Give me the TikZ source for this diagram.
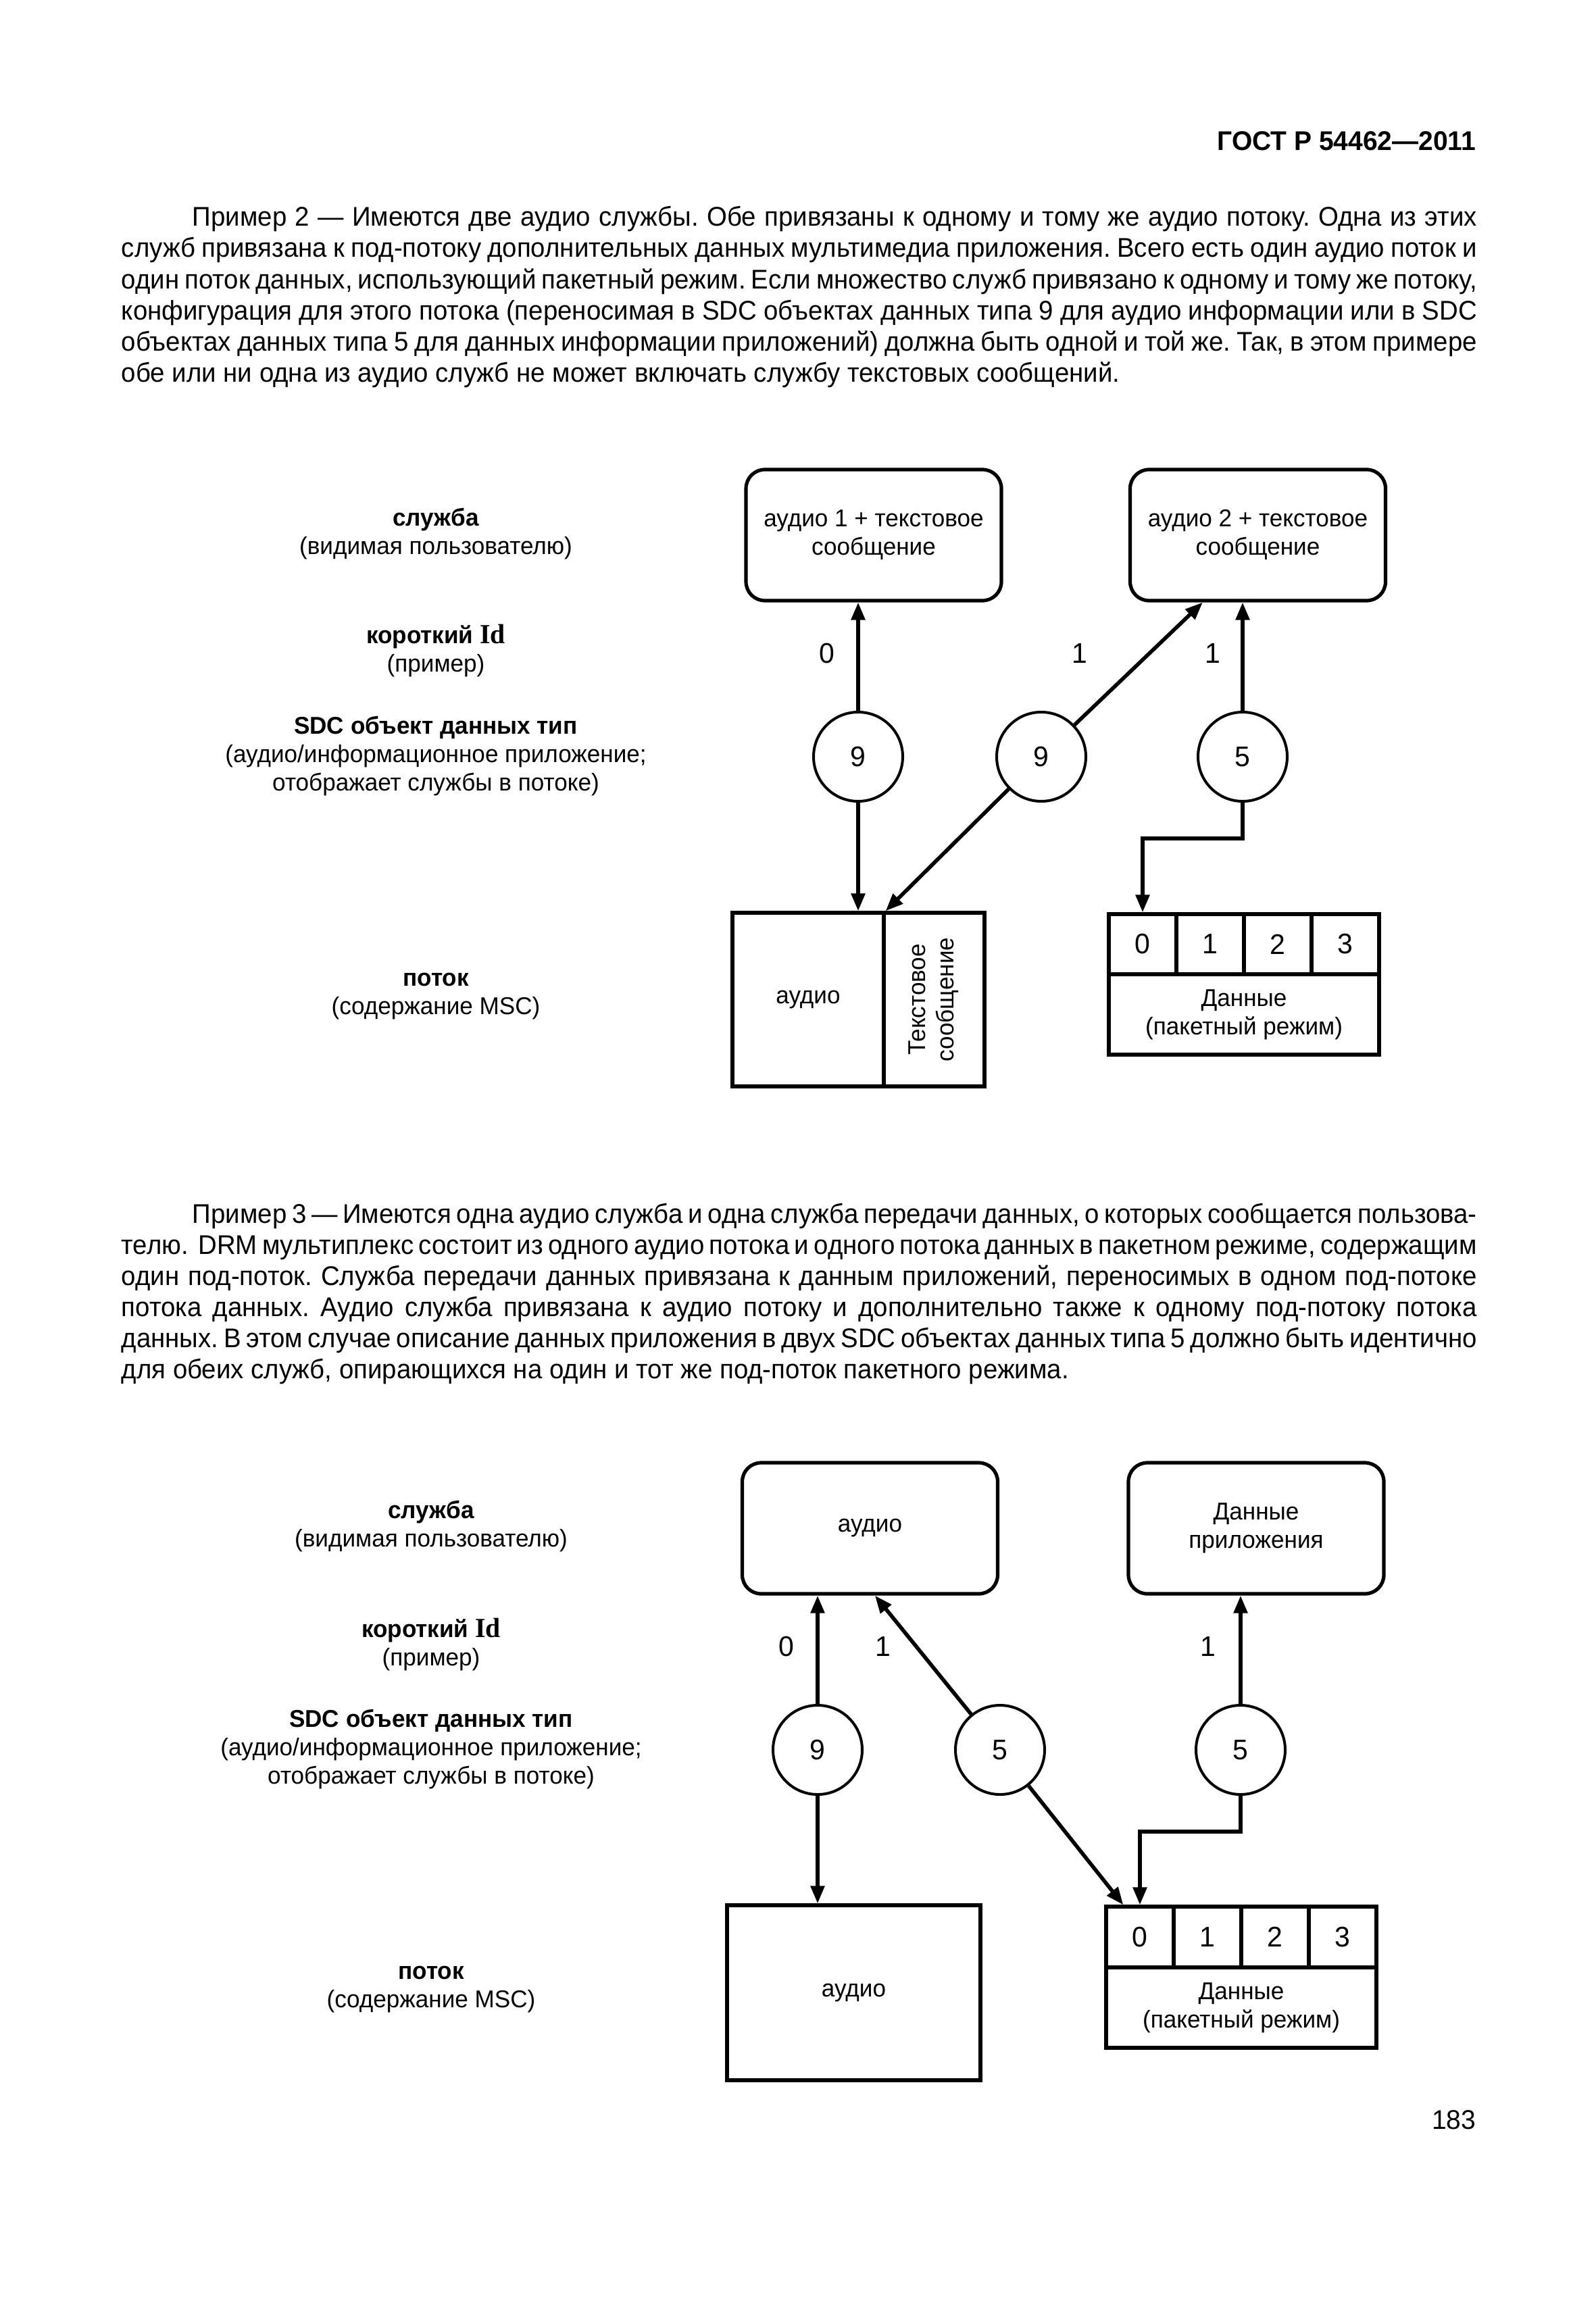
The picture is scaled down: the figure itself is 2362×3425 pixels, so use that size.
\documentclass[tikz,border=0pt]{standalone}
\usepackage{fontspec}
\usepackage{graphicx}
\setmainfont{Liberation Sans}[FakeStretch=0.975]
\newfontfamily\gostbody{Liberation Sans}[FakeStretch=0.96]
\newfontfamily\idfont{Liberation Serif}[FakeStretch=0.975]
\usetikzlibrary{arrows.meta,calc}
\newcommand\gostjust[2]{\hbox to #1{#2}}
\newcommand\gostid{{\idfont\bfseries\fontsize{10.2}{10.5}\selectfont Id}}
\frenchspacing
\begin{document}
\begin{tikzpicture}[x=0.25pt,y=-0.25pt,
  rbox/.style={draw, line width=1.3pt, rounded corners=7pt, minimum width=94.5pt, minimum height=48.5pt, align=center, inner sep=0pt, font=\fontsize{9}{10.5}\selectfont},
  sbox/.style={draw, line width=1.3pt, inner sep=0pt, align=center, font=\fontsize{9}{10.5}\selectfont},
  cell/.style={draw, line width=1.3pt, inner sep=0pt, minimum width=25pt, font=\fontsize{10.5}{12}\selectfont},
  sdc/.style={circle, draw, line width=1pt, minimum size=33pt, inner sep=0pt, font=\fontsize{10.5}{12}\selectfont},
  arr/.style={line width=1.4pt, -{Triangle[length=6.5pt,width=5pt]}},
  lbl/.style={inner sep=0pt, font=\fontsize{10.5}{12}\selectfont},
  side/.style={align=center, inner sep=0pt, font=\fontsize{9}{10.5}\selectfont},
  bodyline/.style={anchor=base west, inner sep=0pt, font=\gostbody\fontsize{10}{11.5}\selectfont\frenchspacing},
  hdr/.style={anchor=base east, inner sep=0pt, font=\fontsize{10}{12}\selectfont}
]
\fill[white] (0,0) rectangle (2362,3425);
\useasboundingbox (0,0) rectangle (2362,3425);

% header
\node[hdr] (hdr) at (2185,223) {\textbf{ГОСТ Р 54462—2011}};

% paragraph 1
\node[bodyline] (p1a) at (284,335) {\gostjust{475.25pt}{Пример 2 — Имеются две аудио службы. Обе привязаны к одному и тому же аудио потоку. Одна из этих}};
\node[bodyline] (p1b) at (179,381) {\gostjust{501.5pt}{служб привязана к под-потоку дополнительных данных мультимедиа приложения. Всего есть один аудио поток и}};
\node[bodyline] (p1c) at (179,427) {\gostjust{501.5pt}{один поток данных, использующий пакетный режим. Если множество служб привязано к одному и тому же потоку,}};
\node[bodyline] (p1d) at (179,473) {\gostjust{501.5pt}{конфигурация для этого потока (переносимая в SDC объектах данных типа 9 для аудио информации или в SDC}};
\node[bodyline] (p1e) at (179,519) {\gostjust{501.5pt}{объектах данных типа 5 для данных информации приложений) должна быть одной и той же. Так, в этом примере}};
\node[bodyline] (p1f) at (179,565) {обе или ни одна из аудио служб не может включать службу текстовых сообщений.};

% ---------------- diagram 1 ----------------
\node[side] (a1) at (645,790) {\textbf{служба}\\(видимая пользователю)};
\node[side] (b1) at (645,963) {\textbf{короткий \gostid}\\(пример)};
\node[side] (e1) at (645,1119) {\textbf{SDC объект данных тип}\\(аудио/информационное приложение;\\отображает службы в потоке)};
\node[side] (f1) at (645,1475) {\textbf{поток}\\(содержание MSC)};

\node[rbox] (s11) at (1293,792) {аудио 1 + текстовое\\сообщение};
\node[rbox] (s12) at (1861.5,792) {аудио 2 + текстовое\\сообщение};

\node[sdc] (c11) at (1270,1120) {9};
\node[sdc] (c12) at (1541,1120) {9};
\node[sdc] (c13) at (1839,1120) {5};

\node[sbox, minimum width=56pt, minimum height=64.25pt] (st1a) at (1196,1479.5) {аудио};
\node[sbox, minimum width=37.25pt, minimum height=64.25pt] (st1t) at (1382.5,1479.5) {\rotatebox{90}{\begin{tabular}{@{}c@{}}Текстовое\\сообщение\end{tabular}}};

\node[cell, minimum height=22.25pt] (d1c0) at (1691,1397.5) {0};
\node[cell, minimum height=22.25pt] (d1c1) at (1791,1397.5) {1};
\node[cell, minimum height=22.25pt] (d1c2) at (1891,1397.5) {2};
\node[cell, minimum height=22.25pt] (d1c3) at (1991,1397.5) {3};
\node[sbox, minimum width=100pt, minimum height=29.75pt] (d1d) at (1841,1501.5) {Данные\\(пакетный режим)};

\coordinate (t12) at ($(s12.south west)+(110,0)$);
\draw[arr] (c11) -- (c11 |- s11.south);
\draw[arr] (c12) -- (t12);
\draw[arr] (c13) -- (c13 |- s12.south);
\draw[arr] (c11) -- (c11 |- st1a.north);
\draw[arr] (c12) -- (st1a.north east);
\draw[arr] (c13.south) -- ++(0,53) -| (d1c0.north);

\node[lbl] (l10) at (1224,967) {0};
\node[lbl] (l11) at (1598,967) {1};
\node[lbl] (l12) at (1795,967) {1};

% paragraph 2
\node[bodyline] (p2a) at (284,1810) {\gostjust{475.25pt}{Пример 3 — Имеются одна аудио служба и одна служба передачи данных, о которых сообщается пользова-}};
\node[bodyline] (p2b) at (179,1856) {\gostjust{501.5pt}{телю.\ \ DRM мультиплекс состоит из одного аудио потока и одного потока данных в пакетном режиме, содержащим}};
\node[bodyline] (p2c) at (179,1902) {\gostjust{501.5pt}{один под-поток. Служба передачи данных привязана к данным приложений, переносимых в одном под-потоке}};
\node[bodyline] (p2d) at (179,1948) {\gostjust{501.5pt}{потока данных. Аудио служба привязана к аудио потоку и дополнительно также к одному под-потоку потока}};
\node[bodyline] (p2e) at (179,1994) {\gostjust{501.5pt}{данных. В этом случае описание данных приложения в двух SDC объектах данных типа 5 должно быть идентично}};
\node[bodyline] (p2f) at (179,2040) {для обеих служб, опирающихся на один и тот же под-поток пакетного режима.};

% ---------------- diagram 2 ----------------
\node[side] (a2) at (638,2259) {\textbf{служба}\\(видимая пользователю)};
\node[side] (b2) at (638,2434) {\textbf{короткий \gostid}\\(пример)};
\node[side] (e2) at (638,2589) {\textbf{SDC объект данных тип}\\(аудио/информационное приложение;\\отображает службы в потоке)};
\node[side] (f2) at (638,2945) {\textbf{поток}\\(содержание MSC)};

\node[rbox] (s21) at (1287.5,2262) {аудио};
\node[rbox] (s22) at (1859,2262) {Данные\\приложения};

\node[sdc] (c21) at (1210,2590) {9};
\node[sdc] (c22) at (1480,2590) {5};
\node[sdc] (c23) at (1836,2590) {5};

\node[sbox, minimum width=93.75pt, minimum height=64.75pt] (st2) at (1263.5,2949.5) {аудио};

\node[cell, minimum height=22.5pt] (d2c0) at (1687,2867) {0};
\node[cell, minimum height=22.5pt] (d2c1) at (1787,2867) {1};
\node[cell, minimum height=22.5pt] (d2c2) at (1887,2867) {2};
\node[cell, minimum height=22.5pt] (d2c3) at (1987,2867) {3};
\node[sbox, minimum width=100pt, minimum height=29.75pt] (d2d) at (1837,2971.5) {Данные\\(пакетный режим)};

\coordinate (t22) at ($(s21.south west)+(199,0)$);
\coordinate (t23) at ($(d2c0.north west)+(28,0)$);
\draw[arr] (c21) -- (c21 |- s21.south);
\draw[arr] (c21) -- (c21 |- st2.north);
\draw[arr] (c22) -- (t22);
\draw[arr] (c22) -- (t23);
\draw[arr] (c23) -- (c23 |- s22.south);
\draw[arr] (c23.south) -- ++(0,53) -| (d2c0.north);

\node[lbl] (l20) at (1164,2437) {0};
\node[lbl] (l21) at (1307,2437) {1};
\node[lbl] (l22) at (1788,2437) {1};

% page number
\node[hdr] (pg) at (2185,3151) {183};
\end{tikzpicture}
\end{document}
